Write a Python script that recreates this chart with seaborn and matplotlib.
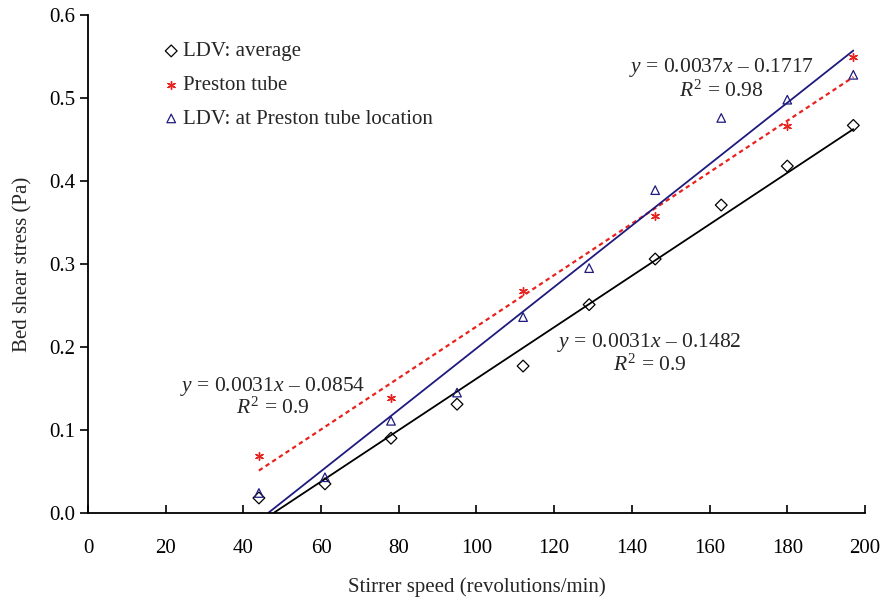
import numpy as np
import pandas as pd
import matplotlib
matplotlib.use("Agg")
import matplotlib.pyplot as plt
import seaborn as sns

# ---- data ----
speed_all = [44, 61, 78, 95, 112, 129, 146, 163, 180, 197]
ldv_avg = [0.018, 0.035, 0.090, 0.131, 0.177, 0.251, 0.306, 0.371, 0.418, 0.467]
ldv_preston = [0.024, 0.043, 0.111, 0.145, 0.236, 0.295, 0.389, 0.476, 0.498, 0.528]
speed_preston = [44, 78, 112, 146, 180, 197]
preston = [0.069, 0.139, 0.267, 0.358, 0.466, 0.549]

# trend line coefficients (slope, intercept) as printed in the chart
fit_avg = (0.0031, -0.1482)
fit_preston = (0.0031, -0.0854)
fit_ldvp = (0.0037, -0.1717)

x_ticks = [0, 20, 40, 60, 80, 100, 120, 140, 160, 180, 200]
y_ticks = [0.0, 0.1, 0.2, 0.3, 0.4, 0.5, 0.6]

sns.set_theme(style="ticks")
plt.rcParams['font.family'] = ['Liberation Serif', 'DejaVu Serif']
plt.rcParams['mathtext.fontset'] = 'custom'
plt.rcParams['mathtext.rm'] = 'Liberation Serif'
plt.rcParams['mathtext.it'] = 'Liberation Serif:italic'

fig = plt.figure(figsize=(8.84, 6.02), dpi=100)
ax = fig.add_axes([0.0995, 0.148, 0.879, 0.827])

black = "#000000"
red = "#E8231E"
navy = "#1E1A7E"

def trend(xs, coef):
    xs = np.array(xs, dtype=float)
    root = -coef[1] / coef[0]
    x0 = max(xs.min(), root)
    xx = np.array([x0, xs.max()])
    return pd.DataFrame({"x": xx, "y": coef[0] * xx + coef[1]})

t1 = trend(speed_all, fit_avg)
t2 = trend(speed_preston, fit_preston)
t3 = trend(speed_all, fit_ldvp)
sns.lineplot(data=t1, x="x", y="y", ax=ax, color=black, lw=1.3, legend=False)
sns.lineplot(data=t2, x="x", y="y", ax=ax, color=red, lw=1.6, linestyle=(0, (2, 1.6)), legend=False)
sns.lineplot(data=t3, x="x", y="y", ax=ax, color=navy, lw=1.3, legend=False)

d1 = pd.DataFrame({"x": speed_all, "y": ldv_avg})
d2 = pd.DataFrame({"x": speed_preston, "y": preston})
d3 = pd.DataFrame({"x": speed_all, "y": ldv_preston})
sns.scatterplot(data=d1, x="x", y="y", ax=ax, marker="D", s=36, facecolor="none",
                edgecolor=black, linewidth=0.9, label="LDV: average", zorder=5)
sns.scatterplot(data=d2, x="x", y="y", ax=ax, marker=(6, 2, 0), s=32, color=red,
                linewidth=1.0, label="Preston tube", zorder=5)
sns.scatterplot(data=d3, x="x", y="y", ax=ax, marker="^", s=38, facecolor="none",
                edgecolor=navy, linewidth=0.9, label="LDV: at Preston tube location", zorder=5)

ax.set_xlim(0, 200)
ax.set_ylim(0, 0.6)
ax.set_xticks(x_ticks)
ax.set_yticks(y_ticks)
ax.set_xticklabels([str(v) for v in x_ticks])
ax.set_yticklabels([f"{v:.1f}" for v in y_ticks])
sns.despine(ax=ax)
for s in ["left", "bottom"]:
    ax.spines[s].set_linewidth(1.3)
    ax.spines[s].set_color("black")
ax.tick_params(axis="x", direction="in", length=6, width=1.2, labelsize=15, pad=19, colors="black")
ax.tick_params(axis="y", direction="out", length=6, width=1.2, labelsize=15, pad=3, colors="black")
ax.set_xlabel("Stirrer speed (revolutions/min)", fontsize=15, labelpad=14)
ax.set_ylabel("Bed shear stress (Pa)", fontsize=15, labelpad=12)

leg = ax.legend(loc="upper left", bbox_to_anchor=(0.083, 0.963), frameon=False, fontsize=15,
                handletextpad=0.05, labelspacing=0.68, borderaxespad=0, handlelength=1.0)

kw = dict(ha="center", va="center", fontsize=15.5)
ax.text(163.0, 0.537, r"$y$ = 0.0037$x$ – 0.1717", **kw)
ax.text(163.0, 0.508, r"$R^2$ = 0.98", **kw)
ax.text(47.5, 0.152, r"$y$ = 0.0031$x$ – 0.0854", **kw)
ax.text(47.5, 0.126, r"$R^2$ = 0.9", **kw)
ax.text(144.5, 0.205, r"$y$ = 0.0031$x$ – 0.1482", **kw)
ax.text(144.5, 0.178, r"$R^2$ = 0.9", **kw)

fig.savefig("out.png", dpi=100)
